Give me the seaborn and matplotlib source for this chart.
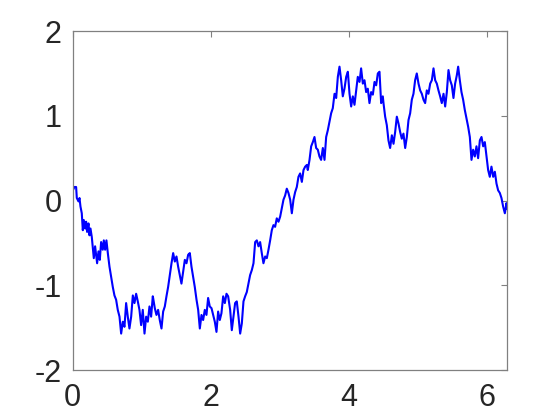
import numpy as np
import pandas as pd
import matplotlib
matplotlib.use("Agg")
import matplotlib.pyplot as plt
import seaborn as sns

# ---- data ----
x_vals = [
    0.000, 0.024, 0.048, 0.058, 0.082, 0.097, 0.111, 0.130, 0.145, 0.159, 0.179, 0.193, 0.207, 0.227, 0.241,
    0.256, 0.275, 0.304, 0.323, 0.352, 0.372, 0.391, 0.410, 0.434, 0.449, 0.468, 0.487, 0.507, 0.531, 0.555,
    0.579, 0.603, 0.627, 0.651, 0.676, 0.700, 0.724, 0.748, 0.772, 0.796, 0.820, 0.845, 0.869, 0.893, 0.917,
    0.941, 0.965, 0.989, 1.013, 1.038, 1.062, 1.086, 1.110, 1.134, 1.158,
    1.163, 1.187, 1.211, 1.235, 1.259, 1.284, 1.308, 1.332, 1.356, 1.380, 1.404, 1.429, 1.453, 1.477, 1.501,
    1.525, 1.549, 1.573, 1.597, 1.622, 1.646, 1.670, 1.694, 1.718, 1.742, 1.766, 1.791, 1.815, 1.839, 1.863,
    1.887, 1.911, 1.935, 1.959, 1.983, 2.008, 2.032, 2.056, 2.080, 2.104, 2.128, 2.152, 2.177, 2.201, 2.225,
    2.249,
    2.278, 2.302, 2.326, 2.350, 2.374, 2.399, 2.423, 2.447, 2.471, 2.495, 2.519, 2.543, 2.567, 2.592, 2.616,
    2.640, 2.664, 2.688, 2.712, 2.736, 2.760, 2.785, 2.809, 2.833, 2.857, 2.881, 2.905, 2.929, 2.953, 2.978,
    3.002, 3.026, 3.050, 3.074, 3.098, 3.122, 3.147, 3.171, 3.195, 3.219, 3.243, 3.267, 3.291, 3.316, 3.340,
    3.364, 3.388,
    3.402, 3.427, 3.451, 3.475, 3.499, 3.523, 3.547, 3.571, 3.595, 3.620, 3.644, 3.668, 3.692, 3.716, 3.740,
    3.764, 3.789, 3.813, 3.837, 3.861, 3.885, 3.909, 3.933, 3.958, 3.982, 4.006, 4.030, 4.054, 4.078, 4.102,
    4.126, 4.151, 4.174, 4.199, 4.223, 4.247, 4.271, 4.295, 4.319, 4.344, 4.368, 4.392, 4.416, 4.440, 4.464,
    4.488,
    4.498, 4.522, 4.546, 4.570, 4.594, 4.619, 4.643, 4.667, 4.691, 4.715, 4.739, 4.763, 4.787, 4.812, 4.836,
    4.860, 4.884, 4.908, 4.932, 4.956, 4.980, 5.005, 5.029, 5.053, 5.077, 5.101, 5.125, 5.149, 5.174, 5.198,
    5.222, 5.246, 5.270, 5.294, 5.318, 5.342, 5.367, 5.391, 5.415, 5.439, 5.463, 5.487, 5.511, 5.535, 5.560,
    5.579, 5.603, 5.627, 5.651, 5.675, 5.700, 5.724, 5.748, 5.772, 5.796, 5.820, 5.844, 5.868, 5.893, 5.917,
    5.941, 5.965, 5.989, 6.013, 6.037, 6.061, 6.086, 6.110, 6.134, 6.158, 6.182, 6.206, 6.230, 6.255, 6.279,
    6.283,
]
y_vals = [
    0.12, 0.16, 0.16, 0.03, -0.01, 0.03, -0.07, -0.15, -0.35, -0.23, -0.33, -0.25, -0.37, -0.27, -0.41,
    -0.33, -0.43, -0.68, -0.54, -0.74, -0.60, -0.70, -0.49, -0.58, -0.47, -0.58, -0.47, -0.62, -0.78, -0.90,
    -1.02, -1.12, -1.17, -1.29, -1.37, -1.57, -1.43, -1.49, -1.21, -1.37, -1.51, -1.37, -1.12, -1.21, -1.10,
    -1.19, -1.29, -1.47, -1.29, -1.57, -1.37, -1.43, -1.25, -1.37, -1.13,
    -1.15, -1.27, -1.35, -1.29, -1.41, -1.51, -1.31, -1.25, -1.13, -1.02, -0.88, -0.74, -0.62, -0.72, -0.66,
    -0.78, -0.88, -0.98, -0.84, -0.70, -0.74, -0.64, -0.62, -0.78, -0.90, -1.02, -1.17, -1.29, -1.51, -1.35,
    -1.41, -1.29, -1.35, -1.15, -1.25, -1.27, -1.35, -1.43, -1.55, -1.31, -1.41, -1.33, -1.13, -1.21, -1.10,
    -1.13,
    -1.29, -1.53, -1.37, -1.21, -1.19, -1.37, -1.57, -1.45, -1.19, -1.13, -1.08, -0.98, -0.88, -0.82, -0.74,
    -0.49, -0.47, -0.54, -0.49, -0.62, -0.74, -0.66, -0.68, -0.58, -0.47, -0.35, -0.29, -0.31, -0.21, -0.25,
    -0.19, -0.09, 0.01, 0.06, 0.14, 0.09, 0.01, -0.15, 0.01, 0.10, 0.16, 0.28, 0.32, 0.22, 0.36,
    0.40, 0.42,
    0.36, 0.48, 0.64, 0.69, 0.75, 0.62, 0.60, 0.52, 0.48, 0.62, 0.48, 0.75, 0.83, 0.93, 1.03,
    1.09, 1.26, 1.21, 1.46, 1.58, 1.42, 1.23, 1.32, 1.46, 1.52, 1.26, 1.11, 1.23, 1.13, 1.30,
    1.46, 1.40, 1.56, 1.38, 1.42, 1.28, 1.32, 1.15, 1.28, 1.25, 1.40, 1.36, 1.50, 1.52, 1.15,
    1.23,
    1.15, 0.99, 0.89, 0.71, 0.62, 0.77, 0.67, 0.81, 0.99, 0.91, 0.81, 0.73, 0.79, 0.62, 0.75,
    0.95, 1.03, 1.19, 1.26, 1.42, 1.50, 1.38, 1.30, 1.26, 1.19, 1.15, 1.30, 1.26, 1.38, 1.42,
    1.56, 1.42, 1.38, 1.30, 1.23, 1.15, 1.26, 1.11, 1.28, 1.54, 1.42, 1.36, 1.21, 1.38, 1.48,
    1.58, 1.42, 1.28, 1.19, 1.07, 0.97, 0.87, 0.75, 0.48, 0.60, 0.52, 0.64, 0.50, 0.71, 0.75,
    0.64, 0.69, 0.52, 0.36, 0.28, 0.40, 0.28, 0.34, 0.20, 0.12, 0.09, 0.03, -0.07, -0.15, -0.03,
    -0.10,
]
x_ticks = [0, 2, 4, 6]
x_tick_labels = ["0", "2", "4", "6"]
y_ticks = [-2, -1, 0, 1, 2]
y_tick_labels = ["-2", "-1", "0", "1", "2"]
x_max = 2 * np.pi

sns.set_style("white")
plt.rcParams['font.family'] = ['Liberation Sans', 'DejaVu Sans']
plt.rcParams['axes.unicode_minus'] = False

df = pd.DataFrame({"x": x_vals, "y": y_vals})

fig = plt.figure(figsize=(5.6, 4.2), dpi=100)
ax = fig.add_axes([0.13, 0.119, 0.775, 0.807])
sns.lineplot(data=df, x="x", y="y", ax=ax, color="#0000ff", linewidth=1.5,
             estimator=None, sort=False)
ax.set_xlim(0, x_max)
ax.set_ylim(-2, 2)
ax.set_xticks(x_ticks)
ax.set_xticklabels(x_tick_labels)
ax.set_yticks(y_ticks)
ax.set_yticklabels(y_tick_labels)
ax.set_xlabel("")
ax.set_ylabel("")
ax.tick_params(direction="in", length=4, width=0.8, top=True, right=True,
               labelsize=22, color="#808080", labelcolor="#262626")
ax.tick_params(axis="x", pad=9)
ax.tick_params(axis="y", pad=8)
for s in ax.spines.values():
    s.set_color("#808080")
    s.set_linewidth(0.9)

fig.savefig("out.png", dpi=100)
